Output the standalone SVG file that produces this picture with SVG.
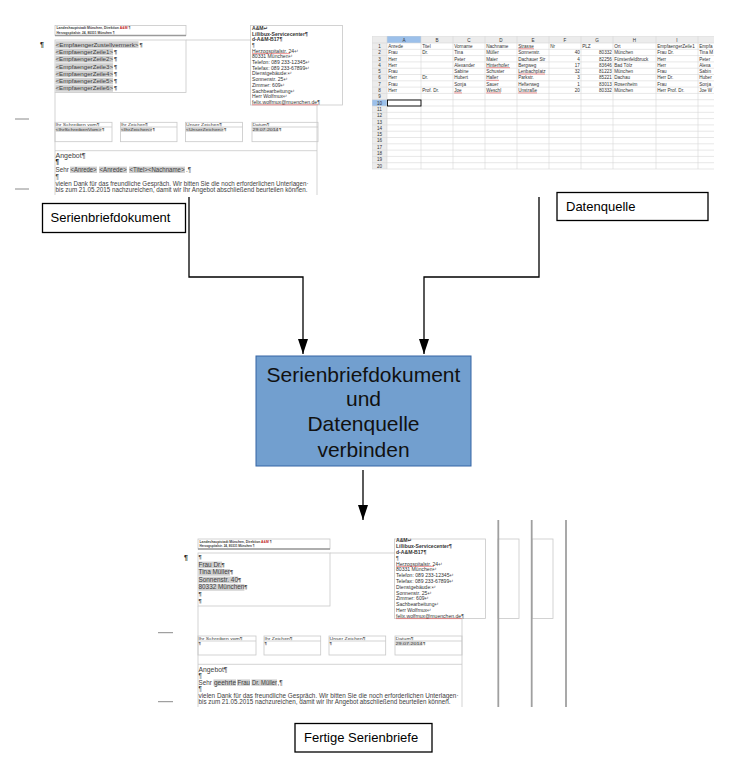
<svg xmlns="http://www.w3.org/2000/svg" width="734" height="778" viewBox="0 0 734 778">
<style>
.t{font-family:"Liberation Sans","DejaVu Sans",Arial,sans-serif}
.lbl{font-size:13px;fill:#000}
.box{fill:#fff;stroke:#000;stroke-width:1.3}
.conn{fill:none;stroke:#000;stroke-width:1.3}
.fr{fill:none;stroke:#c8c8c8;stroke-width:0.8}
.fl{stroke:#c8c8c8;stroke-width:0.8}
.hb{stroke:#9a9a9a;stroke-width:1.3}
.hl{fill:#cfcfcf}
.dt{fill:#404040}
.b{font-weight:bold}
.red{stroke:#e03030;stroke-width:0.5}
.dash{stroke:#8a8a8a;stroke-width:1}
.pg{stroke:#a0a0a0;stroke-width:1.8}
.grid{stroke:#d6d6d6;stroke-width:0.6;fill:none}
.ss{font-size:4.6px;fill:#333}
.rn{font-size:4.6px;fill:#333;text-anchor:middle}
.num{text-anchor:end}
.pm{font-size:5.6px;font-weight:bold}
</style>
<defs>
<marker id="arr" viewBox="0 0 15 10" refX="15" refY="5" markerWidth="15" markerHeight="10" markerUnits="userSpaceOnUse" orient="auto">
<path d="M0,0 L15,5 L0,10 z" fill="#000"/>
</marker>
<clipPath id="clipTop"><rect x="0" y="15" width="350" height="180"/></clipPath>
<clipPath id="clipSS"><rect x="372" y="36" width="342" height="134"/></clipPath>
<clipPath id="clipBot"><rect x="150" y="520" width="420" height="187"/></clipPath>
</defs>
<rect width="734" height="778" fill="#fff"/>

<!-- Top: Serienbriefdokument screenshot -->
<g id="doc-template" class="t dt" clip-path="url(#clipTop)">
<line class="dash" x1="15" y1="119" x2="29" y2="119"/>
<line class="dash" x1="15" y1="189" x2="29" y2="189"/>
<rect class="fr" x="55" y="25.5" width="131" height="10"/>
<line class="hb" x1="55" y1="35.5" x2="186" y2="35.5"/>
<text x="56.5" y="29.4" font-size="3.4" class="b" textLength="74" lengthAdjust="spacingAndGlyphs">Landeshauptstadt München, Direktion <tspan fill="#c02020">A&amp;M</tspan> ¶</text>
<text x="56.5" y="33.7" font-size="3.4" class="b" textLength="58" lengthAdjust="spacingAndGlyphs">Herzogspitalstr. 24, 80331 München ¶</text>
<text x="40" y="47" font-size="7" class="b" fill="#222">¶</text>
<rect class="fr" x="55" y="40" width="131" height="52.5"/>
<line class="fl" x1="186" y1="40" x2="251" y2="40"/>
<g class="hl">
<rect x="55.5" y="41.3" width="83" height="6.6"/>
<rect x="55.5" y="48.6" width="57.5" height="6.6"/>
<rect x="55.5" y="55.9" width="57.5" height="6.6"/>
<rect x="55.5" y="63.2" width="57.5" height="6.6"/>
<rect x="55.5" y="70.5" width="57.5" height="6.6"/>
<rect x="55.5" y="77.8" width="57.5" height="6.6"/>
<rect x="55.5" y="85.1" width="57.5" height="6.6"/>
</g>
<g font-size="6.2">
<text x="55.5" y="46.6" textLength="83" lengthAdjust="spacingAndGlyphs">&lt;EmpfaengerZustellvermerk&gt;</text><text x="139.5" y="46.6" class="pm">¶</text>
<text x="55.5" y="53.9" textLength="57.5" lengthAdjust="spacingAndGlyphs">&lt;EmpfaengerZeile1&gt;</text><text x="114" y="53.9" class="pm">¶</text>
<text x="55.5" y="61.2" textLength="57.5" lengthAdjust="spacingAndGlyphs">&lt;EmpfaengerZeile2&gt;</text><text x="114" y="61.2" class="pm">¶</text>
<text x="55.5" y="68.5" textLength="57.5" lengthAdjust="spacingAndGlyphs">&lt;EmpfaengerZeile3&gt;</text><text x="114" y="68.5" class="pm">¶</text>
<text x="55.5" y="75.8" textLength="57.5" lengthAdjust="spacingAndGlyphs">&lt;EmpfaengerZeile4&gt;</text><text x="114" y="75.8" class="pm">¶</text>
<text x="55.5" y="83.1" textLength="57.5" lengthAdjust="spacingAndGlyphs">&lt;EmpfaengerZeile5&gt;</text><text x="114" y="83.1" class="pm">¶</text>
<text x="55.5" y="90.4" textLength="57.5" lengthAdjust="spacingAndGlyphs">&lt;EmpfaengerZeile6&gt;</text><text x="114" y="90.4" class="pm">¶</text>
</g>
<rect class="fr" x="250.5" y="25.5" width="92" height="79.5"/>
<text font-size="5.1" fill="#333">
<tspan x="252" y="29.8" class="b">A&amp;M↵</tspan>
<tspan x="252" y="35.5" class="b">Lillibux-Servicecenter¶</tspan>
<tspan x="252" y="41.2" class="b">d-A&amp;M-B17¶</tspan>
<tspan x="252" y="46.9">¶</tspan>
<tspan x="252" y="52.6">Herzogspitalstr. 24↵</tspan>
<tspan x="252" y="58.3">80331 München↵</tspan>
<tspan x="252" y="64">Telefon: 089 233-12345↵</tspan>
<tspan x="252" y="69.7">Telefax: 089 233-67899↵</tspan>
<tspan x="252" y="75.4">Dienstgebäude:↵</tspan>
<tspan x="252" y="81.1">Sonnenstr. 25↵</tspan>
<tspan x="252" y="86.8">Zimmer: 609↵</tspan>
<tspan x="252" y="92.5">Sachbearbeitung↵</tspan>
<tspan x="252" y="98.2">Herr Wolfmux↵</tspan>
<tspan x="252" y="103.9">felix.wolfmux@muenchen.de¶</tspan>
</text>
<line class="red" x1="252" y1="53.6" x2="290" y2="53.6"/>
<line class="red" x1="252" y1="104.8" x2="318" y2="104.8"/>
<line class="fl" x1="55" y1="92.5" x2="55" y2="197"/>
<line class="fl" x1="317" y1="105" x2="317" y2="197"/>
<rect class="fr" x="55" y="122.3" width="57" height="19.4"/><line class="fl" x1="55" y1="127" x2="112" y2="127"/>
<rect class="fr" x="120.5" y="122.3" width="56.5" height="19.4"/><line class="fl" x1="120.5" y1="127" x2="177" y2="127"/>
<rect class="fr" x="185.5" y="122.3" width="57" height="19.4"/><line class="fl" x1="185.5" y1="127" x2="242.5" y2="127"/>
<rect class="fr" x="252" y="122.3" width="66" height="19.4"/><line class="fl" x1="252" y1="127" x2="318" y2="127"/>
<g font-size="4.3">
<text x="55.5" y="126" textLength="44" lengthAdjust="spacingAndGlyphs">Ihr Schreiben vom¶</text>
<text x="121" y="126" textLength="27" lengthAdjust="spacingAndGlyphs">Ihr Zeichen¶</text>
<text x="186" y="126" textLength="36" lengthAdjust="spacingAndGlyphs">Unser Zeichen¶</text>
<text x="252.5" y="126" textLength="17" lengthAdjust="spacingAndGlyphs">Datum¶</text>
<rect class="hl" x="55.5" y="127.3" width="46" height="4.4"/>
<rect class="hl" x="121" y="127.3" width="31" height="4.4"/>
<rect class="hl" x="186" y="127.3" width="37.5" height="4.4"/>
<rect class="hl" x="252.5" y="127.3" width="26" height="4.4"/>
<text x="55.5" y="130.8" textLength="46" lengthAdjust="spacingAndGlyphs">&lt;IhrSchreibenVom&gt;</text><text x="102" y="130.8" class="b">¶</text>
<text x="121" y="130.8" textLength="31" lengthAdjust="spacingAndGlyphs">&lt;IhrZeichen&gt;</text><text x="152.5" y="130.8" class="b">¶</text>
<text x="186" y="130.8" textLength="37.5" lengthAdjust="spacingAndGlyphs">&lt;UnserZeichen&gt;</text><text x="224" y="130.8" class="b">¶</text>
<text x="252.5" y="130.8" textLength="26" lengthAdjust="spacingAndGlyphs">29.07.2014</text><text x="279" y="130.8" class="b">¶</text>
</g>
<line class="fl" x1="55" y1="150.7" x2="317" y2="150.7"/>
<g font-size="6.3">
<text x="55.5" y="158" textLength="30" lengthAdjust="spacingAndGlyphs">Angebot¶</text>
<text x="55.5" y="164.3" class="b" fill="#111">¶</text>
<rect class="hl" x="70" y="166.6" width="27" height="6.4"/>
<rect class="hl" x="99" y="166.6" width="28" height="6.4"/>
<rect class="hl" x="129" y="166.6" width="56" height="6.4"/>
<text x="55.5" y="172">Sehr</text>
<text x="70.5" y="172" textLength="26" lengthAdjust="spacingAndGlyphs">&lt;Anrede&gt;</text>
<text x="99.5" y="172" textLength="27" lengthAdjust="spacingAndGlyphs">&lt;Anrede&gt;</text>
<text x="129.5" y="172" textLength="55" lengthAdjust="spacingAndGlyphs">&lt;Titel&gt;&lt;Nachname&gt;</text>
<text x="186" y="172">.¶</text>
<text x="55.5" y="178.5">¶</text>
<text x="55.5" y="185.5" textLength="253" lengthAdjust="spacingAndGlyphs">vielen Dank für das freundliche Gespräch. Wir bitten Sie die noch erforderlichen Unterlagen·</text>
<text x="55.5" y="192.2" textLength="252" lengthAdjust="spacingAndGlyphs">bis zum 21.05.2015 nachzureichen, damit wir Ihr Angebot abschließend beurteilen können.</text>
</g>
</g>

<g id="label-serienbriefdokument">
<rect class="box" x="42.5" y="203.5" width="143" height="29"/>
<text class="t lbl" x="50.5" y="222">Serienbriefdokument</text>
</g>

<!-- Data source spreadsheet -->
<g id="datasource" class="t" clip-path="url(#clipSS)">
<rect x="372" y="36" width="342" height="7" fill="#ececec"/>
<rect x="372" y="43" width="15" height="126" fill="#ececec"/>
<rect x="387" y="36" width="34" height="7" fill="#9cc0ea"/>
<rect x="372" y="99.7" width="15" height="6.3" fill="#9cc0ea"/>
<path class="grid" d="M372,36H714M372,43H714M372,49.3H714M372,55.6H714M372,61.9H714M372,68.2H714M372,74.5H714M372,80.8H714M372,87.1H714M372,93.4H714M372,99.7H714M372,106H714M372,112.3H714M372,118.6H714M372,124.9H714M372,131.2H714M372,137.5H714M372,143.8H714M372,150.1H714M372,156.4H714M372,162.7H714M372,169H714M372,36V169M387,36V169M421,36V169M453,36V169M485,36V169M517,36V169M549,36V169M581,36V169M613,36V169M656,36V169M698,36V169"/>
<g class="rn" fill="#555">
<text x="404" y="41.6">A</text><text x="437" y="41.6">B</text><text x="469" y="41.6">C</text><text x="501" y="41.6">D</text><text x="533" y="41.6">E</text><text x="565" y="41.6">F</text><text x="597" y="41.6">G</text><text x="634.5" y="41.6">H</text><text x="677" y="41.6">I</text>
</g>
<g class="rn">
<text x="379.5" y="47.9">1</text><text x="379.5" y="54.2">2</text><text x="379.5" y="60.5">3</text><text x="379.5" y="66.8">4</text><text x="379.5" y="73.1">5</text><text x="379.5" y="79.4">6</text><text x="379.5" y="85.7">7</text><text x="379.5" y="92">8</text><text x="379.5" y="98.3">9</text><text x="379.5" y="104.6">10</text><text x="379.5" y="110.9">11</text><text x="379.5" y="117.2">12</text><text x="379.5" y="123.5">13</text><text x="379.5" y="129.8">14</text><text x="379.5" y="136.1">15</text><text x="379.5" y="142.4">16</text><text x="379.5" y="148.7">17</text><text x="379.5" y="155">18</text><text x="379.5" y="161.3">19</text><text x="379.5" y="167.6">20</text>
</g>
<rect x="387.5" y="100" width="33.5" height="6" fill="none" stroke="#000" stroke-width="0.9"/>
<g class="ss">
<text x="388.2" y="47.9">Anrede</text><text x="422.2" y="47.9">Titel</text><text x="454.2" y="47.9">Vorname</text><text x="486.2" y="47.9">Nachname</text><text x="518.2" y="47.9">Strasse</text><text x="550.2" y="47.9">Nr</text><text x="582.2" y="47.9">PLZ</text><text x="614.2" y="47.9">Ort</text><text x="657.2" y="47.9">EmpfaengerZeile1</text><text x="699.2" y="47.9">Empfa</text>
<text x="388.2" y="54.2">Frau</text><text x="422.2" y="54.2">Dr.</text><text x="454.2" y="54.2">Tina</text><text x="486.2" y="54.2">Müller</text><text x="518.2" y="54.2">Sonnenstr.</text><text class="num" x="579.8" y="54.2">40</text><text class="num" x="611.8" y="54.2">80332</text><text x="614.2" y="54.2">München</text><text x="657.2" y="54.2">Frau Dr.</text><text x="699.2" y="54.2">Tina M</text>
<text x="388.2" y="60.5">Herr</text><text x="454.2" y="60.5">Peter</text><text x="486.2" y="60.5">Maier</text><text x="518.2" y="60.5">Dachauer Str</text><text class="num" x="579.8" y="60.5">4</text><text class="num" x="611.8" y="60.5">82256</text><text x="614.2" y="60.5">Fürstenfeldbruck</text><text x="657.2" y="60.5">Herr</text><text x="699.2" y="60.5">Peter</text>
<text x="388.2" y="66.8">Herr</text><text x="454.2" y="66.8">Alexander</text><text x="486.2" y="66.8">Hinterhofer</text><text x="518.2" y="66.8">Bergweg</text><text class="num" x="579.8" y="66.8">17</text><text class="num" x="611.8" y="66.8">83646</text><text x="614.2" y="66.8">Bad Tölz</text><text x="657.2" y="66.8">Herr</text><text x="699.2" y="66.8">Alexa</text>
<text x="388.2" y="73.1">Frau</text><text x="454.2" y="73.1">Sabine</text><text x="486.2" y="73.1">Schuster</text><text x="518.2" y="73.1">Lenbachplatz</text><text class="num" x="579.8" y="73.1">32</text><text class="num" x="611.8" y="73.1">81223</text><text x="614.2" y="73.1">München</text><text x="657.2" y="73.1">Frau</text><text x="699.2" y="73.1">Sabin</text>
<text x="388.2" y="79.4">Herr</text><text x="422.2" y="79.4">Dr.</text><text x="454.2" y="79.4">Hubert</text><text x="486.2" y="79.4">Haller</text><text x="518.2" y="79.4">Parkstr.</text><text class="num" x="579.8" y="79.4">3</text><text class="num" x="611.8" y="79.4">85221</text><text x="614.2" y="79.4">Dachau</text><text x="657.2" y="79.4">Herr Dr.</text><text x="699.2" y="79.4">Huber</text>
<text x="388.2" y="85.7">Frau</text><text x="454.2" y="85.7">Sonja</text><text x="486.2" y="85.7">Sauer</text><text x="518.2" y="85.7">Hefterweg</text><text class="num" x="579.8" y="85.7">1</text><text class="num" x="611.8" y="85.7">83013</text><text x="614.2" y="85.7">Rosenheim</text><text x="657.2" y="85.7">Frau</text><text x="699.2" y="85.7">Sonja</text>
<text x="388.2" y="92">Herr</text><text x="422.2" y="92">Prof. Dr.</text><text x="454.2" y="92">Joe</text><text x="486.2" y="92">Weschl</text><text x="518.2" y="92">Unstraße</text><text class="num" x="579.8" y="92">20</text><text class="num" x="611.8" y="92">80332</text><text x="614.2" y="92">München</text><text x="657.2" y="92">Herr Prof. Dr.</text><text x="699.2" y="92">Joe W</text>
</g>
<g class="red">
<line x1="518.2" y1="48.8" x2="534" y2="48.8"/>
<line x1="486.2" y1="67.7" x2="510" y2="67.7"/>
<line x1="518.2" y1="74" x2="545" y2="74"/>
<line x1="486.2" y1="80.3" x2="499" y2="80.3"/>
<line x1="454.2" y1="92.9" x2="462" y2="92.9"/>
<line x1="486.2" y1="92.9" x2="501" y2="92.9"/>
<line x1="518.2" y1="92.9" x2="537" y2="92.9"/>
</g>
</g>

<g id="label-datenquelle">
<rect class="box" x="557" y="192.5" width="151" height="28"/>
<text class="t lbl" x="566" y="211">Datenquelle</text>
</g>

<g id="merge">
<rect x="256" y="356" width="215" height="110" fill="#729fcf" stroke="#3465a4" stroke-width="1"/>
<g class="t" font-size="21" fill="#111" text-anchor="middle">
<text x="363.5" y="381.5">Serienbriefdokument</text>
<text x="363.5" y="406">und</text>
<text x="363.5" y="431">Datenquelle</text>
<text x="363.5" y="456.5">verbinden</text>
</g>
</g>

<!-- Bottom: finished letters screenshot -->
<g id="doc-result" class="t dt" clip-path="url(#clipBot)">
<line class="dash" x1="158" y1="632.7" x2="173" y2="632.7"/>
<line class="dash" x1="158" y1="701.7" x2="173" y2="701.7"/>
<rect class="fr" x="198" y="539" width="132" height="10"/>
<line class="hb" x1="198" y1="549" x2="330" y2="549"/>
<text x="199.5" y="542.9" font-size="3.4" class="b" textLength="72" lengthAdjust="spacingAndGlyphs">Landeshauptstadt München, Direktion <tspan fill="#c02020">A&amp;M</tspan> ¶</text>
<text x="199.5" y="547.2" font-size="3.4" class="b" textLength="55" lengthAdjust="spacingAndGlyphs">Herzogspitalstr. 24, 80331 München ¶</text>
<text x="184" y="560" font-size="7" class="b" fill="#222">¶</text>
<rect class="fr" x="198" y="553" width="132" height="53"/>
<line class="fl" x1="330" y1="553" x2="395" y2="553"/>
<g class="hl">
<rect x="198.5" y="561.6" width="23.5" height="6.6"/>
<rect x="198.5" y="569.1" width="31.6" height="6.6"/>
<rect x="198.5" y="576.6" width="39.8" height="6.6"/>
<rect x="198.5" y="584.1" width="45.9" height="6.6"/>
</g>
<g font-size="6.4">
<text x="198.5" y="559" class="pm">¶</text>
<text x="198.5" y="566.8">Frau Dr.<tspan class="pm">¶</tspan></text>
<text x="198.5" y="574.3">Tina Müller<tspan class="pm">¶</tspan></text>
<text x="198.5" y="581.8">Sonnenstr. 40<tspan class="pm">¶</tspan></text>
<text x="198.5" y="589.3">80332 München<tspan class="pm">¶</tspan></text>
<text x="198.5" y="596" class="pm">¶</text>
<text x="198.5" y="602.5" class="pm">¶</text>
</g>
<rect class="fr" x="394.5" y="539" width="91" height="79.5"/>
<text font-size="5.1" fill="#333">
<tspan x="396" y="542.3" class="b">A&amp;M↵</tspan>
<tspan x="396" y="548.1" class="b">Lillibux-Servicecenter¶</tspan>
<tspan x="396" y="553.9" class="b">d-A&amp;M-B17¶</tspan>
<tspan x="396" y="559.7">¶</tspan>
<tspan x="396" y="565.5">Herzogspitalstr. 24↵</tspan>
<tspan x="396" y="571.3">80331 München↵</tspan>
<tspan x="396" y="577.1">Telefon: 089 233-12345↵</tspan>
<tspan x="396" y="582.9">Telefax: 089 233-67899↵</tspan>
<tspan x="396" y="588.7">Dienstgebäude:↵</tspan>
<tspan x="396" y="594.5">Sonnenstr. 25↵</tspan>
<tspan x="396" y="600.3">Zimmer: 609↵</tspan>
<tspan x="396" y="606.1">Sachbearbeitung↵</tspan>
<tspan x="396" y="611.9">Herr Wolfmux↵</tspan>
<tspan x="396" y="617.7">felix.wolfmux@muenchen.de¶</tspan>
</text>
<line class="red" x1="396" y1="566.4" x2="434" y2="566.4"/>
<line class="red" x1="396" y1="618.6" x2="462" y2="618.6"/>
<rect class="fr" x="498" y="539" width="21" height="79.5"/>
<rect class="fr" x="532" y="539" width="21" height="79.5"/>
<line class="pg" x1="498.3" y1="520" x2="498.3" y2="707"/>
<line class="pg" x1="531.7" y1="520" x2="531.7" y2="707"/>
<line class="pg" x1="566" y1="520" x2="566" y2="707"/>
<line class="fl" x1="198" y1="606" x2="198" y2="707"/>
<line class="fl" x1="462" y1="618.5" x2="462" y2="707"/>
<rect class="fr" x="198" y="636" width="58" height="19"/><line class="fl" x1="198" y1="641" x2="256" y2="641"/>
<rect class="fr" x="264" y="636" width="56.7" height="19"/><line class="fl" x1="264" y1="641" x2="320.7" y2="641"/>
<rect class="fr" x="329" y="636" width="56.7" height="19"/><line class="fl" x1="329" y1="641" x2="385.7" y2="641"/>
<rect class="fr" x="395" y="636" width="67" height="19"/><line class="fl" x1="395" y1="641" x2="462" y2="641"/>
<g font-size="4.3">
<text x="198.5" y="639.8" textLength="44" lengthAdjust="spacingAndGlyphs">Ihr Schreiben vom¶</text>
<text x="264.5" y="639.8" textLength="28" lengthAdjust="spacingAndGlyphs">Ihr Zeichen¶</text>
<text x="329.5" y="639.8" textLength="36" lengthAdjust="spacingAndGlyphs">Unser Zeichen¶</text>
<text x="395.5" y="639.8" textLength="18" lengthAdjust="spacingAndGlyphs">Datum¶</text>
<text x="198.5" y="644.6" class="b">¶</text>
<text x="264.5" y="644.6" class="b">¶</text>
<text x="329.5" y="644.6" class="b">¶</text>
<rect class="hl" x="395.5" y="641.2" width="27" height="4.4"/>
<text x="395.5" y="644.6" textLength="27" lengthAdjust="spacingAndGlyphs">29.07.2014</text><text x="423" y="644.6" class="b">¶</text>
</g>
<line class="fl" x1="198" y1="664.3" x2="462" y2="664.3"/>
<g font-size="6.3">
<text x="198.5" y="671.5" textLength="29" lengthAdjust="spacingAndGlyphs">Angebot¶</text>
<text x="198.5" y="677.6">¶</text>
<rect class="hl" x="213.5" y="679.4" width="22.5" height="6.4"/>
<rect class="hl" x="237" y="679.4" width="13" height="6.4"/>
<rect class="hl" x="251.5" y="679.4" width="25.5" height="6.4"/>
<text x="198.5" y="684.6">Sehr</text>
<text x="214" y="684.6" textLength="22" lengthAdjust="spacingAndGlyphs">geehrte</text>
<text x="237.5" y="684.6" textLength="12.5" lengthAdjust="spacingAndGlyphs">Frau</text>
<text x="252" y="684.6" textLength="25" lengthAdjust="spacingAndGlyphs">Dr. Müller</text>
<text x="277.5" y="684.6">,¶</text>
<text x="198.5" y="691">¶</text>
<text x="198.5" y="697.6" textLength="260" lengthAdjust="spacingAndGlyphs">vielen Dank für das freundliche Gespräch. Wir bitten Sie die noch erforderlichen Unterlagen·</text>
<text x="198.5" y="704.3" textLength="252" lengthAdjust="spacingAndGlyphs">bis zum 21.05.2015 nachzureichen, damit wir Ihr Angebot abschließend beurteilen können.</text>
</g>
</g>

<g id="label-fertige">
<rect class="box" x="295" y="723.5" width="137" height="28.5"/>
<text class="t lbl" x="304" y="741.5">Fertige Serienbriefe</text>
</g>

<g id="connectors">
<path class="conn" d="M189,197 V277 H303 V354" marker-end="url(#arr)"/>
<path class="conn" d="M539,197 V277 H424 V354" marker-end="url(#arr)"/>
<path class="conn" d="M363,470 V520" marker-end="url(#arr)"/>
</g>
</svg>
